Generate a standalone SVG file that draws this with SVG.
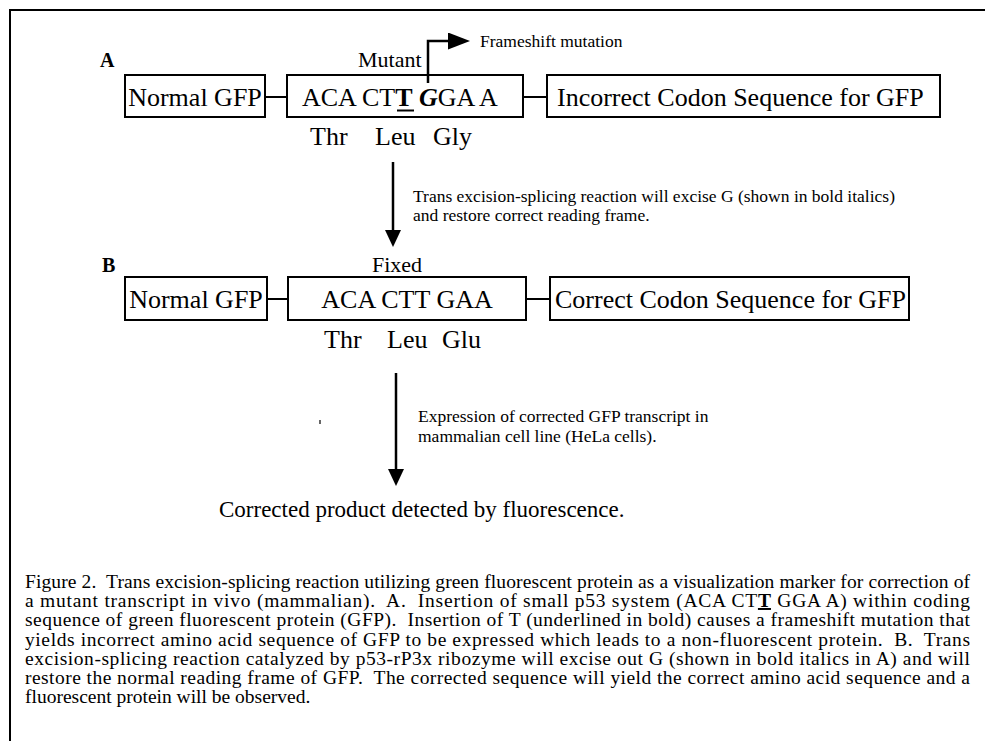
<svg xmlns="http://www.w3.org/2000/svg" width="985" height="741" viewBox="0 0 985 741">
<style>
text{font-family:"Liberation Serif","Times New Roman",serif;fill:#000;white-space:pre}
.box{fill:none;stroke:#000;stroke-width:2}
.lbl{font-size:26px}
.sm{font-size:17.5px}
.cap{font-size:19.5px}
.hd{font-size:20px;font-weight:bold}
.mid{font-size:22px}
.con{stroke:#000;stroke-width:2;fill:none}
.arr{stroke:#000;stroke-width:2.5;fill:none}
</style>
<defs>
<marker id="ah" markerUnits="userSpaceOnUse" markerWidth="17" markerHeight="16" refX="0" refY="8" orient="auto" viewBox="0 0 17 16"><path d="M0,0L17,8L0,16Z" fill="#000"/></marker>
<marker id="ah2" markerUnits="userSpaceOnUse" markerWidth="22" markerHeight="17" refX="0" refY="8.5" orient="auto" viewBox="0 0 22 17"><path d="M0,0L22,8.5L0,17Z" fill="#000"/></marker>
</defs>
<rect width="985" height="741" fill="#fff"/>
<g id="frame"><path class="con" d="M10,741V10H985"/></g>

<g id="label-A"><text class="hd" x="100" y="67">A</text></g>
<g id="a-normal"><rect class="box" x="125" y="75" width="140" height="42"/><text class="lbl" x="195" y="106" text-anchor="middle">Normal GFP</text></g>
<g id="a-mutant">
<text class="mid" x="358" y="67">Mutant</text>
<rect class="box" x="287" y="75" width="236" height="42"/>
<text class="lbl" x="302" y="106">ACA CT<tspan font-weight="bold">T</tspan> <tspan font-weight="bold" font-style="italic">G</tspan>GA A</text>
<line x1="397" y1="110.5" x2="414" y2="110.5" stroke="#000" stroke-width="2"/>
</g>
<g id="a-incorrect"><rect class="box" x="547" y="75" width="393" height="42"/><text class="lbl" x="557" y="106">Incorrect Codon Sequence for GFP</text></g>
<g id="a-frameshift"><text class="sm" x="480" y="47">Frameshift mutation</text></g>
<g id="a-aa"><text class="lbl" x="310" y="145">Thr</text><text class="lbl" x="375" y="145">Leu</text><text class="lbl" x="433" y="145">Gly</text></g>

<g id="step1-label"><text class="sm" x="413" y="202">Trans excision-splicing reaction will excise G (shown in bold italics)</text><text class="sm" x="413" y="221">and restore correct reading frame.</text></g>

<g id="label-B"><text class="hd" x="102" y="272">B</text></g>
<g id="b-normal"><rect class="box" x="125" y="277" width="142" height="43"/><text class="lbl" x="196" y="308" text-anchor="middle">Normal GFP</text></g>
<g id="b-fixed">
<text class="mid" x="372" y="272">Fixed</text>
<rect class="box" x="288" y="277" width="238" height="43"/>
<text class="lbl" x="407" y="308" text-anchor="middle">ACA CTT GAA</text>
</g>
<g id="b-correct"><rect class="box" x="550" y="277" width="359" height="43"/><text class="lbl" x="555" y="308">Correct Codon Sequence for GFP</text></g>
<g id="b-aa"><text class="lbl" x="324" y="348">Thr</text><text class="lbl" x="387" y="348">Leu</text><text class="lbl" x="442" y="348">Glu</text></g>

<g id="step2-label"><text class="sm" x="418" y="422">Expression of corrected GFP transcript in</text><text class="sm" x="418" y="442">mammalian cell line (HeLa cells).</text></g>
<g id="result"><text x="219" y="517" style="font-size:23px">Corrected product detected by fluorescence.</text></g>
<line x1="320" y1="420" x2="320" y2="424" stroke="#000" stroke-width="1.2"/>

<g id="connectors">
<line class="con" x1="265" y1="97" x2="287" y2="97"/>
<line class="con" x1="523" y1="97" x2="547" y2="97"/>
<line class="con" x1="267" y1="299" x2="288" y2="299"/>
<line class="con" x1="526" y1="299" x2="550" y2="299"/>
<path class="arr" d="M428,83V41H448" marker-end="url(#ah2)"/>
<path class="arr" d="M393,162V230" marker-end="url(#ah)"/>
<path class="arr" d="M396,373V469" marker-end="url(#ah)"/>
</g>

<g id="caption" class="cap">
<text class="cap" x="25" y="588" textLength="945" lengthAdjust="spacing">Figure 2.  Trans excision-splicing reaction utilizing green fluorescent protein as a visualization marker for correction of</text>
<text class="cap" x="25" y="607" textLength="945" lengthAdjust="spacing">a mutant transcript in vivo (mammalian).  A.  Insertion of small p53 system (ACA CT<tspan font-weight="bold" text-decoration="underline">T</tspan> GGA A) within coding</text>
<text class="cap" x="25" y="626" textLength="945" lengthAdjust="spacing">sequence of green fluorescent protein (GFP).  Insertion of T (underlined in bold) causes a frameshift mutation that</text>
<text class="cap" x="25" y="646" textLength="945" lengthAdjust="spacing">yields incorrect amino acid sequence of GFP to be expressed which leads to a non-fluorescent protein.  B.  Trans</text>
<text class="cap" x="25" y="665" textLength="945" lengthAdjust="spacing">excision-splicing reaction catalyzed by p53-rP3x ribozyme will excise out G (shown in bold italics in A) and will</text>
<text class="cap" x="25" y="684" textLength="945" lengthAdjust="spacing">restore the normal reading frame of GFP.  The corrected sequence will yield the correct amino acid sequence and a</text>
<text class="cap" x="25" y="703">fluorescent protein will be observed.</text>
</g>
</svg>
